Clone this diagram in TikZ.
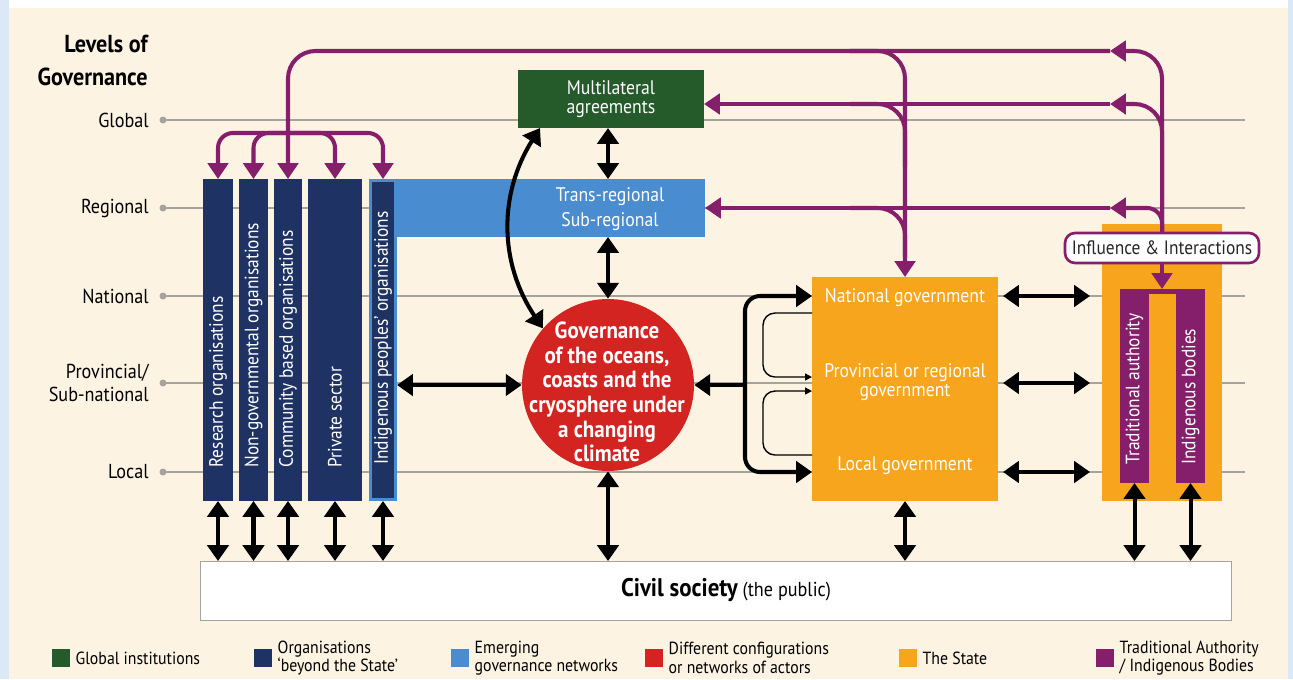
\documentclass[tikz,border=0pt]{standalone}
\usepackage{fontspec}
\setmainfont{PT Sans}[FakeStretch=0.9]
\usetikzlibrary{arrows.meta,calc}
\definecolor{cream}{HTML}{FCF3E2}
\definecolor{framebl}{HTML}{DCE8F6}
\definecolor{navy}{HTML}{1E3364}
\definecolor{skyblue}{HTML}{4A8CD0}
\definecolor{forest}{HTML}{255A2A}
\definecolor{redc}{HTML}{D42422}
\definecolor{amber}{HTML}{F6A51C}
\definecolor{plum}{HTML}{861F6B}
\definecolor{levgray}{HTML}{A6A29C}

\begin{document}
\begin{tikzpicture}[x=0.02cm, y=-0.02cm, font=\fontsize{11.5}{13}\selectfont,
    plainbox/.style={inner sep=0pt, outer sep=0pt},
    navybar/.style={plainbox, fill=navy, minimum height=6.44cm},
    bartxt/.style={rotate=90, anchor=west, text=white, inner sep=0pt, font=\fontsize{11}{13}\selectfont},
    wtxt/.style={text=white, align=center, inner sep=0pt, font=\fontsize{11.2}{10.5}\selectfont},
    lvl/.style={anchor=east, align=right, inner sep=0pt},
    biarrow/.style={line width=2.3pt, {Triangle[length=9pt,width=12pt]}-{Triangle[length=9pt,width=12pt]}},
    thinarrow/.style={line width=0.8pt, -{Triangle[length=4pt,width=4pt]}, rounded corners=0.24cm},
    infl/.style={draw=plum, line width=2.3pt, -{Triangle[length=9pt,width=11.5pt]}, rounded corners=0.55cm},
    inflb/.style={infl, rounded corners=0.3cm},
    keysq/.style={minimum size=0.36cm, inner sep=0pt},
    keytxt/.style={anchor=west, align=left, inner sep=0pt, font=\fontsize{10}{10.5}\selectfont}]
  \useasboundingbox (0,0) rectangle (1293,679);
  \fill[white] (0,0) rectangle (1293,679);
  \fill[framebl] (0,0) rectangle (9,679);
  \fill[framebl] (1288,0) rectangle (1293,679);
  \fill[cream] (9,8) rectangle (1288,679);

  \node[lvl, anchor=north east, font=\fontsize{14}{18.5}\selectfont\bfseries] (title) at (148,35) {Levels of\\Governance};
  \foreach \y/\n/\t in {120/glo/Global, 208/reg/Regional, 296/nat/National, 383/pro/{Provincial/\\Sub-national}, 472/loc/Local} {
    \coordinate (\n) at (163,\y);
    \draw[levgray, line width=0.6pt] (\n) -- (1245,\y);
    \fill[levgray] (\n) circle (3.5);
    \node[lvl] (\n-l) at (149,\y) {\t};
  }

  \node[navybar, minimum width=0.6cm] (r1) at (218,340) {};
  \node[navybar, minimum width=0.58cm] (r2) at (253.5,340) {};
  \node[navybar, minimum width=0.56cm] (r3) at (288,340) {};
  \node[navybar, minimum width=1.08cm] (r4) at (335,340) {};
  \node[plainbox, fill=skyblue, minimum width=6.72cm, minimum height=1.16cm] (band) at (537,208) {};
  \node[plainbox, fill=skyblue, minimum width=0.56cm, minimum height=6.44cm] (r5o) at (383,340) {};
  \node[navybar, minimum width=0.44cm, minimum height=6.32cm] (r5) at (383,340) {};
  \foreach \b/\t in {r1/Research organisations, r2/Non-governmental organisations, r3/Community based organisations, r4/Private sector, r5/Indigenous peoples' organisations}
    \node[bartxt] (\b-t) at ($(\b.south)+(0,-33)$) {\t};
  \node[wtxt, font=\fontsize{11.2}{14.5}\selectfont] (bandtxt) at (610,209) {Trans-regional\\Sub-regional};

  \node[plainbox, fill=forest, minimum width=3.72cm, minimum height=1.16cm, wtxt] (multi) at (611,99) {Multilateral\\agreements};
  \node[circle, fill=redc, minimum size=3.44cm, inner sep=0pt] (circ) at (608,385) {};
  \node[text=white, align=center, inner sep=0pt, font=\fontsize{13.3}{14}\selectfont\bfseries] (circtxt) at (607,392) {Governance\\of the oceans,\\coasts and the\\cryosphere under\\a changing\\climate};

  \node[plainbox, fill=amber, minimum width=3.72cm, minimum height=4.48cm] (state) at (905,389) {};
  \node[wtxt] (gnat) at (905,298) {National government};
  \node[wtxt] (gpro) at (905,382) {Provincial or regional\\government};
  \node[wtxt] (gloc) at (905,466) {Local government};

  \node[plainbox, fill=amber, minimum width=2.4cm, minimum height=5.54cm] (tbox) at (1162,362.5) {};
  \node[plainbox, fill=plum, minimum width=0.58cm, minimum height=3.88cm] (trad) at (1134.5,386) {};
  \node[plainbox, fill=plum, minimum width=0.58cm, minimum height=3.88cm] (indb) at (1190.5,386) {};
  \node[plainbox, fill=plum, minimum width=1.7cm, minimum height=0.1cm, anchor=north] (tbar) at (1162.5,289) {};
  \node[bartxt] (trad-t) at ($(trad.south)+(0,-18)$) {Traditional authority};
  \node[bartxt] (indb-t) at ($(indb.south)+(0,-18)$) {Indigenous bodies};
  \node[draw=plum, line width=1.5pt, fill=white, rounded corners=0.2cm, minimum width=3.88cm, minimum height=0.6cm, inner sep=0pt, text=black!85, font=\fontsize{11}{13}\selectfont] (ii) at (1162,248) {Influence \& Interactions};

  \node[plainbox, fill=white, draw=levgray, line width=0.5pt, minimum width=20.64cm, minimum height=1.18cm] (civil) at (716,590.5) {};
  \node[inner sep=0pt] (civtxt) at (726,590) {{\fontsize{14.5}{16}\selectfont\bfseries Civil society} (the public)};

  \draw[biarrow] (multi.south -| circ.north) -- (band.north -| circ.north);
  \draw[biarrow] (band.south -| circ.north) -- (circ.north);
  \draw[biarrow] (circ.south) -- (civil.north -| circ.south);
  \draw[biarrow] (circ.west -| r5o.east) -- (circ.west);
  \draw[biarrow] ($(multi.south west)+(22,0)$) to[bend right=33] (circ.139);
  \foreach \b in {r1,r2,r3,r4,r5o,state,trad,indb}
    \draw[biarrow] (\b.south) -- (\b.south |- civil.north);
  \foreach \l in {nat,pro,loc}
    \draw[biarrow, shorten <=0.1cm, shorten >=0.24cm] (state.east |- \l) -- (tbox.west |- \l);

  \coordinate (brk) at (745,385);
  \draw[line width=2.3pt, -{Triangle[length=9pt,width=12pt]}] (brk) -- (circ.east);
  \draw[biarrow, rounded corners=0.3cm] (state.west |- nat) -| (brk) |- (state.west |- loc);
  \draw[thinarrow] ($(state.north west)+(0,36)$) -- ++(-49,0) |- ($(state.north west)+(0,100)$);
  \draw[thinarrow] ($(state.north west)+(0,178)$) -- ++(-49,0) |- ($(state.north west)+(0,114)$);

  \coordinate (h1) at (1110,51);
  \coordinate (h2) at (1110,104);
  \coordinate (h3) at (1110,208);
  \coordinate (split) at (288,133);
  \coordinate (s1) at (850,51);
  \coordinate (s2) at (850,104);
  \coordinate (s3) at (850,208);
  \draw[infl] (ii.north) |- (h1);
  \draw[infl] (ii.north) |- (h2);
  \draw[inflb] (ii.north) |- (h3);
  \draw[infl] (h1) -| (r3.north);
  \draw[infl] (h2) -- (multi.east |- h2);
  \draw[infl] (h3) -- (band.east |- h3);
  \foreach \b in {r1,r2,r4,r5o}
    \draw[inflb] (split) -| (\b.north);
  \draw[infl] (s1) -| (state.north);
  \draw[infl, -] (s2) -| ($(state.north)+(0,-110)$);
  \draw[infl, -] (s3) -| ($(state.north)+(0,-20)$);
  \draw[infl] (ii.south) -- (ii.south |- tbar.north);

  \foreach \x/\c/\n/\t in {61/forest/kg/Global institutions, 263/navy/ko/{Organisations\\‘beyond the State’}, 460/skyblue/ke/{Emerging\\governance networks}, 654/redc/kd/{Different configurations\\or networks of actors}, 908/amber/ks/The State, 1105/plum/kt/{Traditional Authority\\/ Indigenous Bodies}} {
    \node[keysq, fill=\c] (\n) at (\x,658) {};
    \node[keytxt] (\n-t) at ($(\n.east)+(5,0)$) {\t};
  }
\end{tikzpicture}
\end{document}
